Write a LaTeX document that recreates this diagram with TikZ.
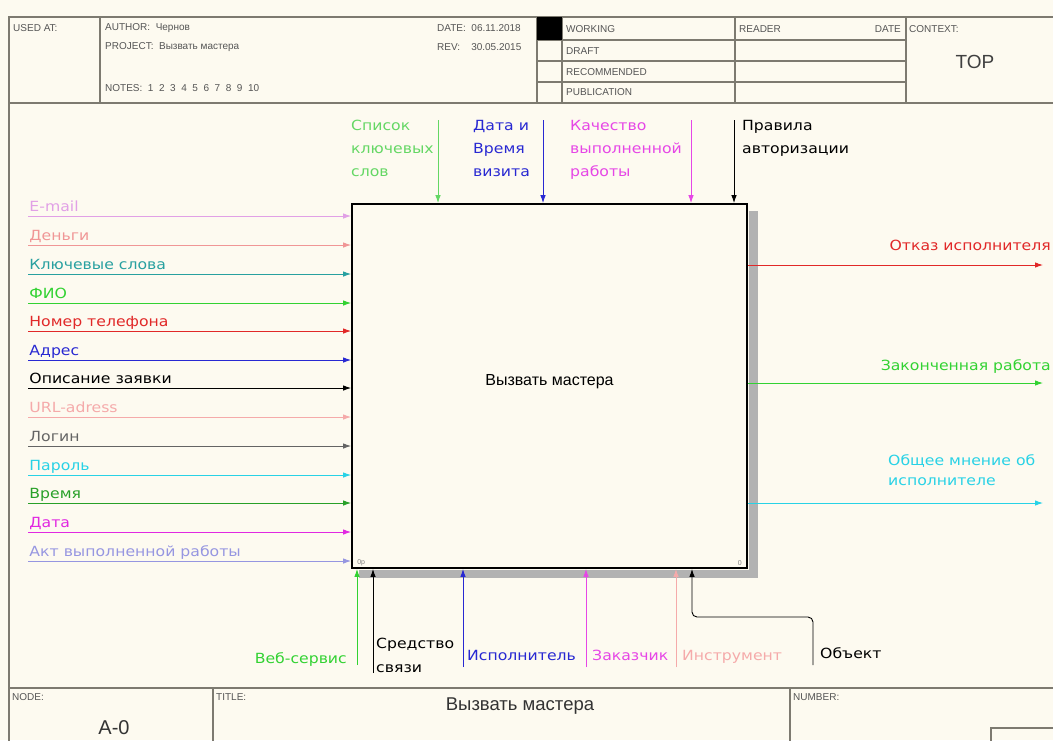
\documentclass[tikz,border=0pt]{standalone}
\usepackage{fontspec}
\setmainfont{Liberation Sans}
\newfontfamily\lblfont[FakeStretch=1.12]{DejaVu Sans}
\usetikzlibrary{arrows.meta,positioning,calc}

\definecolor{paper}{RGB}{253,250,240}
\definecolor{frameclr}{RGB}{125,122,112}
\definecolor{hdrtext}{RGB}{85,85,85}
\definecolor{cemail}{RGB}{225,160,230}
\definecolor{cmoney}{RGB}{240,150,150}
\definecolor{ckeys}{RGB}{40,160,160}
\definecolor{cgreen}{RGB}{50,210,50}
\definecolor{cred}{RGB}{225,40,40}
\definecolor{cblue}{RGB}{40,40,210}
\definecolor{cpink}{RGB}{245,170,170}
\definecolor{cgray}{RGB}{100,100,100}
\definecolor{ccyan}{RGB}{40,210,230}
\definecolor{cdkgreen}{RGB}{40,160,40}
\definecolor{cmagenta}{RGB}{225,40,225}
\definecolor{cviolet}{RGB}{230,70,230}
\definecolor{clavender}{RGB}{150,150,225}
\definecolor{cltgreen}{RGB}{100,215,100}

\begin{document}
\begin{tikzpicture}[x=1pt, y=-1pt,
    frame/.style={draw=frameclr, line width=1.2pt},
    hdr/.style={font=\fontsize{10}{11}\selectfont, text=hdrtext, inner sep=0pt, anchor=west},
    func/.style={rectangle, draw=black, line width=1.8pt, fill=paper, minimum width=395pt, minimum height=364pt, text depth=12pt, font=\fontsize{16}{18}\selectfont},
    corner/.style={font=\fontsize{7}{8}\selectfont, text=gray, inner sep=0pt},
    arrow/.style={-{Latex[length=8pt,width=5.5pt]}, line width=0.9pt},
    lbl/.style={font=\lblfont\fontsize{14}{23}\selectfont, inner sep=1pt, align=left},
    inlbl/.style={lbl, anchor=south west, pos=0, text height=11pt, text depth=3pt},
    shade/.style={fill=black!30}
]

% Sheet
\useasboundingbox (0,0) rectangle (1053,740);
\clip (0,0) rectangle (1053,740);
\fill[paper] (0,0) rectangle (1053,740);

% Header
\draw[frame] (9,17) rectangle (1060,103);
\draw[frame] (100,17) -- (100,103);
\draw[frame] (537,17) -- (537,103);
\draw[frame] (562,17) -- (562,103);
\draw[frame] (735,17) -- (735,103);
\draw[frame] (906,17) -- (906,103);
\draw[frame] (537,40) -- (906,40);
\draw[frame] (537,61) -- (906,61);
\draw[frame] (537,82) -- (906,82);
\fill[black] (537,17) rectangle (562,40);
\node[hdr] (usedat) at (13,28) {USED AT:};
\node[hdr] (author) at (105,28) {AUTHOR:\ \ Чернов};
\node[hdr] (project) at (105,47) {PROJECT:\ \ Вызвать мастера};
\node[hdr] (notes) at (105,88) {NOTES:\ \ 1\ \ 2\ \ 3\ \ 4\ \ 5\ \ 6\ \ 7\ \ 8\ \ 9\ \ 10};
\node[hdr] (date) at (437,28) {DATE:\ \ 06.11.2018};
\node[hdr] (rev) at (437,47) {REV:\ \ \ \ 30.05.2015};
\node[hdr] (working) at (566,29) {WORKING};
\node[hdr] (draft) at (566,51) {DRAFT};
\node[hdr] (recommended) at (566,72) {RECOMMENDED};
\node[hdr] (publication) at (566,92) {PUBLICATION};
\node[hdr] (reader) at (739,29) {READER};
\node[hdr, anchor=east] (readerdate) at (901,29) {DATE};
\node[hdr] (context) at (909,29) {CONTEXT:};
\node[font=\fontsize{19}{21}\selectfont, text=black!75] (top) at (975,62) {TOP};

% Footer
\draw[frame] (9,103) -- (9,745);
\draw[frame] (9,688) -- (1060,688);
\draw[frame] (213,688) -- (213,745);
\draw[frame] (790,688) -- (790,745);
\draw[frame] (991,728) rectangle (1060,750);
\node[hdr] (node) at (12,697) {NODE:};
\node[hdr] (title) at (216,697) {TITLE:};
\node[hdr] (number) at (793,697) {NUMBER:};
\node[font=\fontsize{20}{22}\selectfont, text=black!80] (nodeid) at (114,728) {A-0};
\node[font=\fontsize{18.5}{20}\selectfont, text=black!80] (titletxt) at (520,706) {Вызвать мастера};

% Function box
\node[func] (box) at (549.5,386) {Вызвать мастера};
\fill[shade] ($(box.north east)+(1,8)$) rectangle ($(box.south east)+(10,9)$);
\fill[shade] ($(box.south west)+(8,1)$) rectangle ($(box.south east)+(10,9)$);
\node[corner, anchor=south west] (cost) at ($(box.south west)+(6,-3)$) {0р};
\node[corner, anchor=south east] (boxno) at ($(box.south east)+(-6,-3)$) {0};

% Inputs
\coordinate (email) at (28,216);
\coordinate (money) at (28,245);
\coordinate (keywords) at (28,274);
\coordinate (fio) at (28,303);
\coordinate (phone) at (28,331);
\coordinate (address) at (28,360);
\coordinate (request) at (28,388);
\coordinate (url) at (28,417);
\coordinate (login) at (28,446);
\coordinate (password) at (28,475);
\coordinate (time) at (28,503);
\coordinate (day) at (28,532);
\coordinate (report) at (28,561);
\draw[arrow, cemail] (email) -- node[inlbl] {E-mail} (email -| box.west);
\draw[arrow, cmoney] (money) -- node[inlbl] {Деньги} (money -| box.west);
\draw[arrow, ckeys] (keywords) -- node[inlbl] {Ключевые слова} (keywords -| box.west);
\draw[arrow, cgreen] (fio) -- node[inlbl] {ФИО} (fio -| box.west);
\draw[arrow, cred] (phone) -- node[inlbl] {Номер телефона} (phone -| box.west);
\draw[arrow, cblue] (address) -- node[inlbl] {Адрес} (address -| box.west);
\draw[arrow, black] (request) -- node[inlbl] {Описание заявки} (request -| box.west);
\draw[arrow, cpink] (url) -- node[inlbl] {URL-adress} (url -| box.west);
\draw[arrow, cgray] (login) -- node[inlbl] {Логин} (login -| box.west);
\draw[arrow, ccyan] (password) -- node[inlbl] {Пароль} (password -| box.west);
\draw[arrow, cdkgreen] (time) -- node[inlbl] {Время} (time -| box.west);
\draw[arrow, cmagenta] (day) -- node[inlbl] {Дата} (day -| box.west);
\draw[arrow, clavender] (report) -- node[inlbl] {Акт выполненной работы} (report -| box.west);

% Controls
\coordinate (kwlist) at (438,120);
\coordinate (visit) at (543,120);
\coordinate (quality) at (691,120);
\coordinate (rules) at (734,120);
\draw[arrow, cltgreen] (kwlist) -- (kwlist |- box.north);
\draw[arrow, cblue] (visit) -- (visit |- box.north);
\draw[arrow, cviolet] (quality) -- (quality |- box.north);
\draw[arrow, black] (rules) -- (rules |- box.north);
\node[lbl, text=cltgreen, anchor=north west] (kwlisttxt) at (350,119) {Список\\ключевых\\слов};
\node[lbl, text=cblue, anchor=north west] (visittxt) at (472,119) {Дата и\\Время\\визита};
\node[lbl, text=cviolet, anchor=north west] (qualitytxt) at (569,119) {Качество\\выполненной\\работы};
\node[lbl, text=black, anchor=north west] (rulestxt) at (741,119) {Правила\\авторизации};

% Outputs
\coordinate (refusal) at (1043,265);
\coordinate (done) at (1043,383);
\coordinate (opinion) at (1043,503);
\draw[arrow, cred] (refusal -| box.east) -- (refusal);
\draw[arrow, cgreen] (done -| box.east) -- (done);
\draw[arrow, ccyan] (opinion -| box.east) -- (opinion);
\node[lbl, text=cred, anchor=base east] (refusaltxt) at (1052,250) {Отказ исполнителя};
\node[lbl, text=cgreen, anchor=base east] (donetxt) at (1052,370) {Законченная работа};
\node[lbl, text=ccyan, anchor=north west, font=\lblfont\fontsize{14}{20}\selectfont] (opiniontxt) at (887,453) {Общее мнение об\\исполнителе};

% Mechanisms
\coordinate (websvc) at (357,665);
\coordinate (comm) at (373,673);
\coordinate (worker) at (463,667);
\coordinate (client) at (586,667);
\coordinate (tool) at (676,667);
\coordinate (object) at (813,665);
\coordinate (objbend) at (692,617);
\draw[arrow, cgreen] (websvc) -- (websvc |- box.south);
\draw[arrow, black] (comm) -- (comm |- box.south);
\draw[arrow, cblue] (worker) -- (worker |- box.south);
\draw[arrow, cviolet] (client) -- (client |- box.south);
\draw[arrow, cpink] (tool) -- (tool |- box.south);
\draw[arrow, black, rounded corners=5pt] (object) |- (objbend) -- (objbend |- box.south);
\node[lbl, text=cgreen, anchor=base east] (websvctxt) at (348,663) {Веб-сервис};
\node[lbl, text=black, anchor=north west, font=\lblfont\fontsize{14}{24}\selectfont] (commtxt) at (375,637) {Средство\\связи};
\node[lbl, text=cblue, anchor=base west] (workertxt) at (466,660) {Исполнитель};
\node[lbl, text=cviolet, anchor=base west] (clienttxt) at (591,660) {Заказчик};
\node[lbl, text=cpink, anchor=base west] (tooltxt) at (681,660) {Инструмент};
\node[lbl, text=black, anchor=base west] (objecttxt) at (819,658) {Объект};

\end{tikzpicture}
\end{document}
